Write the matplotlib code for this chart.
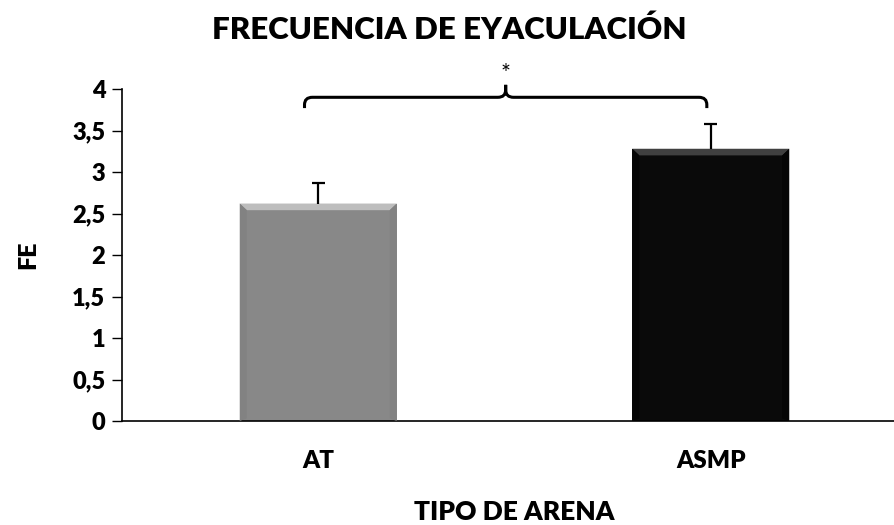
import matplotlib
matplotlib.use("Agg")
import matplotlib.pyplot as plt
from matplotlib.patches import Polygon, PathPatch
from matplotlib.path import Path
import numpy as np

# datos
categorias = ["AT", "ASMP"]
medias = [2.62, 3.28]
errores = [0.25, 0.30]
colores = ["#888888", "#0a0a0a"]
bisel_claro = ["#bdbdbd", "#404040"]
bisel_oscuro = ["#828282", "#050505"]
yticks = [0, 0.5, 1, 1.5, 2, 2.5, 3, 3.5, 4]
ytick_labels = ["0", "0,5", "1", "1,5", "2", "2,5", "3", "3,5", "4"]

FUENTE = "Lato"
PESO = "heavy"
plt.rcParams["font.family"] = [FUENTE, "DejaVu Sans"]

fig = plt.figure(figsize=(8.94, 5.25), dpi=100)
W, H = 894, 525
ax = fig.add_axes([122 / W, (H - 421) / H, (907 - 122) / W, (421 - 89) / H])

x = np.arange(len(categorias))
ancho = 0.40
barras = ax.bar(x, medias, width=ancho, color=colores, zorder=2)

# efecto bisel en cada barra
bx, by = 0.018, 0.08
for b, claro, oscuro in zip(barras, bisel_claro, bisel_oscuro):
    x0, w, h = b.get_x(), b.get_width(), b.get_height()
    x1 = x0 + w
    ax.add_patch(Polygon([(x0, h), (x1, h), (x1 - bx, h - by), (x0 + bx, h - by)],
                         closed=True, facecolor=claro, edgecolor="none", zorder=3))
    ax.add_patch(Polygon([(x0, 0), (x0, h), (x0 + bx, h - by), (x0 + bx, by * 0.4)],
                         closed=True, facecolor=oscuro, edgecolor="none", zorder=3))
    ax.add_patch(Polygon([(x1, 0), (x1, h), (x1 - bx, h - by), (x1 - bx, by * 0.4)],
                         closed=True, facecolor=oscuro, edgecolor="none", zorder=3))

# barras de error solo hacia arriba (sin tope inferior)
sup = [m + e for m, e in zip(medias, errores)]
cap = 0.016
ax.vlines(x, medias, sup, colors="black", linewidth=1.6, zorder=4)
ax.hlines(sup, x - cap, x + cap, colors="black", linewidth=1.6, zorder=4)

# llave de significancia
tope = max(sup)
xa, xb = x[0] - 0.035, x[1] - 0.01
xm = (xa + xb) / 2
ye, yb, yt = tope + 0.19, tope + 0.32, tope + 0.47
rx, ry = 0.02, 0.09
verts = [(xa, ye), (xa, yb - ry), (xa, yb), (xa + rx, yb),
         (xm - rx, yb), (xm, yb), (xm, yb + ry), (xm, yt),
         (xm, yb + ry), (xm, yb), (xm + rx, yb),
         (xb - rx, yb), (xb, yb), (xb, yb - ry), (xb, ye)]
codes = [Path.MOVETO, Path.LINETO, Path.CURVE3, Path.CURVE3,
         Path.LINETO, Path.CURVE3, Path.CURVE3, Path.LINETO,
         Path.LINETO, Path.CURVE3, Path.CURVE3,
         Path.LINETO, Path.CURVE3, Path.CURVE3, Path.LINETO]
ax.add_patch(PathPatch(Path(verts, codes), facecolor="none", edgecolor="black",
                       linewidth=2.2, clip_on=False, zorder=5))
ax.text(xm, yt + 0.01, "*", ha="center", va="bottom", fontsize=17, color="black")

# ejes
ax.set_xlim(-0.5, 1.5)
ax.set_ylim(0, 4)
ax.set_yticks(yticks)
ax.set_yticklabels(ytick_labels, fontsize=17, fontweight=PESO)
ax.set_xticks(x)
ax.set_xticklabels(categorias, fontsize=17.5, fontweight=PESO)
ax.tick_params(axis="x", length=0, pad=21)
ax.tick_params(axis="y", length=7, width=1, direction="out", pad=5)
for s in ("top", "right"):
    ax.spines[s].set_visible(False)
for s in ("left", "bottom"):
    ax.spines[s].set_linewidth(1.2)

ax.set_xlabel("TIPO DE ARENA", fontsize=19, fontweight=PESO, labelpad=20)
ax.set_ylabel("FE", fontsize=18, fontweight=PESO, labelpad=24)
fig.text(0.503, 0.943, "FRECUENCIA DE EYACULACIÓN", ha="center", va="center",
         fontsize=22.5, fontweight=PESO)

fig.savefig("out.png", dpi=100)
